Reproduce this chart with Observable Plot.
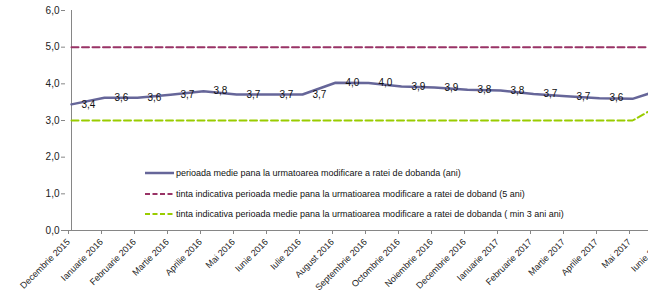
<!DOCTYPE html>
<html>
<head>
<meta charset="utf-8">
<script src="https://cdn.jsdelivr.net/npm/d3@7"></script>
<script src="https://cdn.jsdelivr.net/npm/@observablehq/plot@0.6"></script>
<style>
  html, body { margin: 0; padding: 0; background: #fff; overflow: hidden; }
  #wrap { position: relative; width: 648px; height: 293px; overflow: hidden; }
  #legend { position: absolute; left: 145px; top: 163px; font-family: "Liberation Sans", Arial, sans-serif; font-size: 9px; color: #111; }
  #legend .row { display: flex; align-items: center; height: 20.5px; white-space: nowrap; }
  #legend svg { margin-right: 2px; }
  [aria-label="x-axis tick"], [aria-label="y-axis tick"] { stroke: #868686; }
</style>
</head>
<body>
<div id="wrap"><div id="legend"></div></div>
<script>
const months = ["Decembrie 2015","Ianuarie 2016","Februarie 2016","Martie 2016","Aprilie 2016","Mai 2016","Iunie 2016","Iulie 2016","August 2016","Septembrie 2016","Octombrie 2016","Noiembrie 2016","Decembrie 2016","Ianuarie 2017","Februarie 2017","Martie 2017","Aprilie 2017","Mai 2017","Iunie 2017"];
const avgPeriod = [3.44,3.62,3.62,3.70,3.80,3.71,3.71,3.71,4.03,4.02,3.93,3.90,3.84,3.82,3.72,3.66,3.61,3.59,3.88];
const target5 = [5,5,5,5,5,5,5,5,5,5,5,5,5,5,5,5,5,5,5];
const targetMin3 = [3,3,3,3,3,3,3,3,3,3,3,3,3,3,3,3,3,3,3.5];
const yTicks = [0,1,2,3,4,5,6];
const seriesNames = [
  "perioada medie pana la urmatoarea modificare a ratei de dobanda (ani)",
  "tinta indicativa perioada medie pana la urmatioarea modificare a ratei de doband (5 ani)",
  "tinta indicativa perioada medie pana la urmatioarea modificare a ratei de dobanda ( min 3 ani ani)"
];
const colors = ["#666699", "#993366", "#99CC00"];

const main = months.map((m, i) => ({month: m, value: avgPeriod[i]}));
const red = months.map((m, i) => ({month: m, value: target5[i]}));
const green = months.map((m, i) => ({month: m, value: targetMin3[i]}));
const fmt = v => v.toFixed(1).replace(".", ",");
const labelled = main.slice(0, 17);

const chart = Plot.plot({
  width: 648,
  height: 293,
  marginLeft: 65,
  marginRight: 0,
  marginTop: 10,
  marginBottom: 63,
  style: {fontFamily: "Liberation Sans, Arial, sans-serif", fontSize: "10px", background: "transparent", overflow: "hidden", color: "#222"},
  x: {type: "point", domain: months, range: [65.3, 670.3], padding: 0},
  y: {domain: [0, 6]},
  marks: [
    Plot.ruleY([0], {stroke: "#868686"}),
    Plot.ruleX([months[0]], {y1: 0, y2: 6, stroke: "#868686"}),
    Plot.axisY(yTicks, {tickSize: 4, tickPadding: 2, tickFormat: fmt, fontSize: 10, label: null}),
    Plot.axisX({tickSize: 4, tickRotate: -45, tickPadding: 6, dx: -3, fontSize: 9, label: null}),
    Plot.line(red, {x: "month", y: "value", stroke: colors[1], strokeWidth: 2, strokeDasharray: "7,3.5"}),
    Plot.line(green, {x: "month", y: "value", stroke: colors[2], strokeWidth: 2, strokeDasharray: "7,3.5"}),
    Plot.line(main, {x: "month", y: "value", stroke: colors[0], strokeWidth: 2.5}),
    Plot.text(labelled, {x: "month", y: "value", text: d => fmt(d.value), textAnchor: "start", dx: 10, fontSize: 10, fill: "#111"})
  ]
});
document.getElementById("wrap").prepend(chart);

const legend = document.getElementById("legend");
seriesNames.forEach((name, i) => {
  const row = document.createElement("div");
  row.className = "row";
  const dash = i === 0 ? "" : ` stroke-dasharray="5,2.5"`;
  row.innerHTML = `<svg width="29" height="6"><line x1="0" y1="3" x2="29" y2="3" stroke="${colors[i]}" stroke-width="${i === 0 ? 2.5 : 2}"${dash}/></svg><span>${name}</span>`;
  legend.appendChild(row);
});
</script>
</body>
</html>
